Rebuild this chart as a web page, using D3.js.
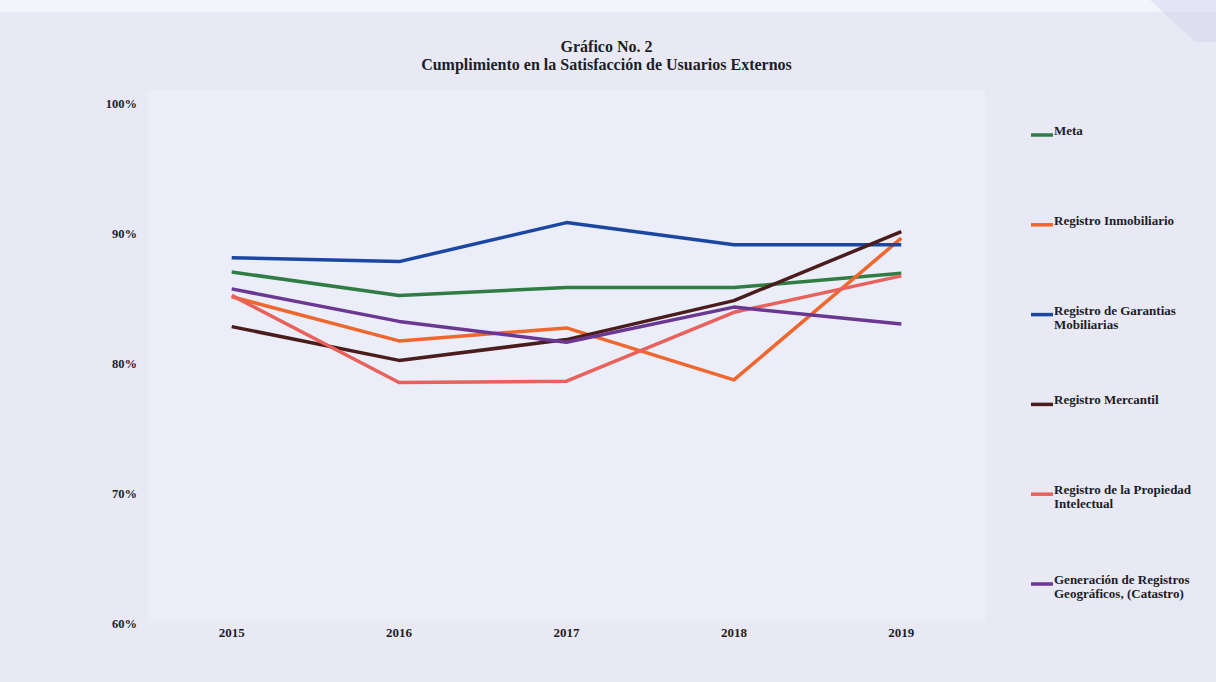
<!DOCTYPE html>
<html>
<head>
<meta charset="utf-8">
<script src="https://cdn.jsdelivr.net/npm/d3@7"></script>
<style>
	html, body { margin: 0; padding: 0; background: #e8e9f4; }
	#chart { width: 1216px; height: 682px; }
	text { font-family: "Liberation Serif", "DejaVu Serif", serif; font-weight: bold; fill: #1d1d28; }
</style>
</head>
<body>
<div id="chart"></div>
<script>
// values (percent)
var years = ['2015', '2016', '2017', '2018', '2019'];
var seriesNames = ['Meta', 'Registro Inmobiliario', 'Registro de Garantias Mobiliarias', 'Registro Mercantil', 'Registro de la Propiedad Intelectual', 'Generación de Registros Geográficos, (Catastro)'];
var meta = [87.0, 85.2, 85.8, 85.8, 86.9];
var inmobiliario = [85.1, 81.7, 82.7, 78.7, 89.6];
var garantias = [88.1, 87.8, 90.8, 89.1, 89.1];
var mercantil = [82.8, 80.2, 81.8, 84.8, 90.1];
var propiedad = [85.2, 78.5, 78.6, 83.9, 86.7];
var catastro = [85.7, 83.2, 81.6, 84.3, 83.0];
var yTicks = [0.6, 0.7, 0.8, 0.9, 1.0];
var legendLines = [['Meta'], ['Registro Inmobiliario'], ['Registro de Garantias', 'Mobiliarias'], ['Registro Mercantil'], ['Registro de la Propiedad', 'Intelectual'], ['Generación de Registros', 'Geográficos, (Catastro)']];
var colors = ['#2f7d44', '#f0672e', '#1b47a3', '#4a1c1c', '#e8615b', '#6a3893'];

function LineChart(options) {
	this.options = options || {};
	this.container = this.options.container || '#chart';
	this.width = 1216;
	this.height = 682;
	this.plot = { left: 148, right: 985, top: 100, bottom: 623 };
	this.init();
}

LineChart.prototype = {
	constructor: LineChart,

	init: function () {
		var values = [meta, inmobiliario, garantias, mercantil, propiedad, catastro];
		this.series = seriesNames.map(function (name, i) {
			return { name: name, color: colors[i], legend: legendLines[i], values: values[i] };
		});

		this.x = d3.scaleBand().domain(years).range([this.plot.left, this.plot.right]);
		this.y = d3.scaleLinear().domain([0.6, 1.0]).range([this.plot.bottom, this.plot.bottom - 520]);

		this.svg = d3.select(this.container).append('svg')
			.attr('width', this.width)
			.attr('height', this.height);

		this.drawBackground();
		this.drawTitle();
		this.drawAxes();
		this.drawLines();
		this.drawLegend();
	},

	drawBackground: function () {
		this.svg.append('rect')
			.attr('width', this.width).attr('height', this.height)
			.attr('fill', '#e8e9f4');
		// top strip of the scan is paler
		this.svg.append('rect')
			.attr('width', this.width).attr('height', 12)
			.attr('fill', '#f4f5fb');
		// faint logo bleeding through at the top right of the scan
		this.svg.append('path')
			.attr('d', 'M1150,0 L1216,0 L1216,42 L1195,42 Z')
			.attr('fill', '#d2d5ee')
			.attr('opacity', 0.5);
		this.svg.append('rect')
			.attr('x', this.plot.left).attr('y', this.plot.top - 10)
			.attr('width', this.plot.right - this.plot.left)
			.attr('height', this.plot.bottom - this.plot.top + 10)
			.attr('fill', '#ebedf8');
	},

	drawTitle: function () {
		var cx = (this.plot.left + this.plot.right) / 2 + 40;
		var t = this.svg.append('g').attr('class', 'title').attr('text-anchor', 'middle').style('font-size', '16px');
		t.append('text').attr('x', cx).attr('y', 52).text('Gráfico No. 2');
		t.append('text').attr('x', cx).attr('y', 70).text('Cumplimiento en la Satisfacción de Usuarios Externos');
	},

	drawAxes: function () {
		var yAxis = d3.axisLeft(this.y)
			.tickValues(yTicks)
			.tickFormat(d3.format('.0%'))
			.tickSize(0)
			.tickPadding(0);
		var gy = this.svg.append('g')
			.attr('transform', 'translate(' + (this.plot.left - 11) + ',0)')
			.call(yAxis);
		gy.select('.domain').remove();
		gy.selectAll('text').style('font-size', '12.5px').style('font-family', null);

		var xAxis = d3.axisBottom(this.x).tickSize(0).tickPadding(0);
		var gx = this.svg.append('g')
			.attr('transform', 'translate(0,' + (this.plot.bottom + 5) + ')')
			.call(xAxis);
		gx.select('.domain').remove();
		gx.selectAll('text').style('font-size', '13px').style('font-family', null);
	},

	drawLines: function () {
		var self = this;
		var line = d3.line()
			.x(function (d, i) { return self.x(years[i]) + self.x.bandwidth() / 2; })
			.y(function (d) { return self.y(d / 100); });

		this.svg.append('g').attr('class', 'lines')
			.selectAll('path')
			.data(this.series)
			.enter().append('path')
			.attr('d', function (s) { return line(s.values); })
			.attr('fill', 'none')
			.attr('stroke', function (s) { return s.color; })
			.attr('stroke-width', 3.5)
			.attr('stroke-linejoin', 'round');
	},

	drawLegend: function () {
		var ly = d3.scalePoint().domain(seriesNames).range([135, 584]);
		var items = this.svg.append('g').attr('class', 'legend')
			.selectAll('g')
			.data(this.series)
			.enter().append('g')
			.attr('transform', function (s) { return 'translate(1031,' + ly(s.name) + ')'; });

		items.append('line')
			.attr('x1', 0).attr('x2', 22)
			.attr('stroke', function (s) { return s.color; })
			.attr('stroke-width', 3.5);

		var txt = items.append('text')
			.attr('x', 23)
			.attr('dy', '0.35em')
			.style('font-size', '13px');
		txt.selectAll('tspan')
			.data(function (s) { return s.legend; })
			.enter().append('tspan')
			.attr('x', 23)
			.attr('dy', function (d, i) { return i === 0 ? 0 : 14; })
			.text(function (d) { return d; });
	}
};

new LineChart({ container: '#chart' });
</script>
</body>
</html>
